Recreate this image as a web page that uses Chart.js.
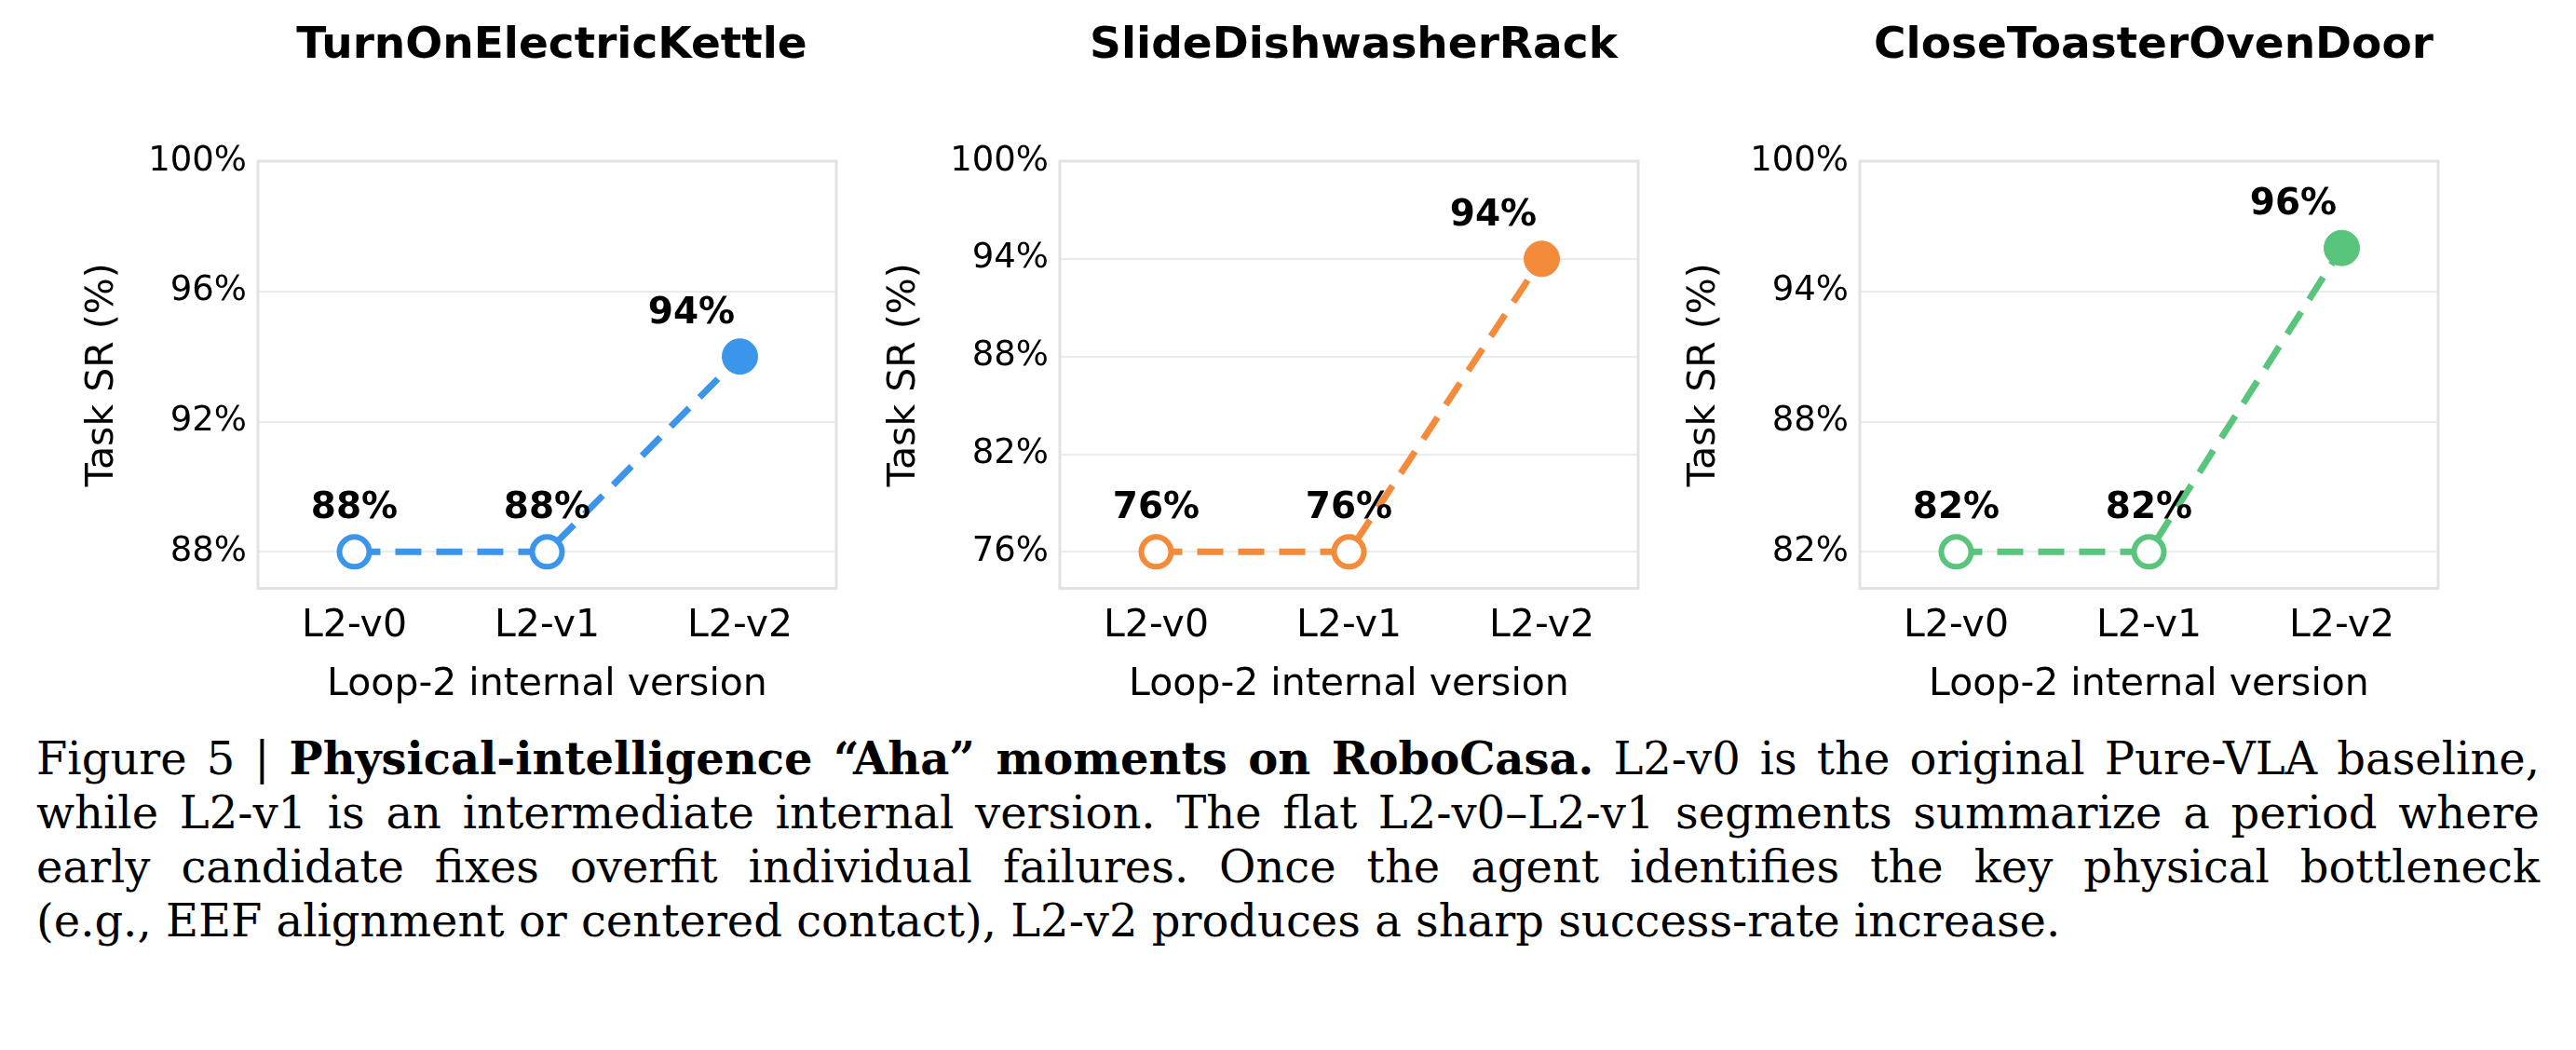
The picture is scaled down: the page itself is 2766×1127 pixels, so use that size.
<!DOCTYPE html>
<html><head><meta charset="utf-8">
<script src="https://cdn.jsdelivr.net/npm/chart.js@4/dist/chart.umd.min.js"></script>
<style>
body{margin:0;width:2766px;height:1127px;background:#fff;position:relative;overflow:hidden}
.cv{position:absolute;top:0;width:920px;height:760px}
.ttl{position:absolute;top:18px;font:bold 47px "DejaVu Sans";text-align:center;width:621px;color:#000}
#cap{position:absolute;left:39px;top:785px;width:2688px;font:48px "DejaVu Serif";line-height:58px;color:#000}
#cap div{text-align:justify;text-align-last:justify;white-space:nowrap}
#cap div.last{text-align-last:left}
</style></head><body>
<div class="cv" style="left:0"><canvas id="c0"></canvas></div>
<div class="cv" style="left:861px"><canvas id="c1"></canvas></div>
<div class="cv" style="left:1720px"><canvas id="c2"></canvas></div>
<div class="ttl" style="left:282px">TurnOnElectricKettle</div>
<div class="ttl" style="left:1143px">SlideDishwasherRack</div>
<div class="ttl" style="left:2002px">CloseToasterOvenDoor</div>
<div id="cap">
<div>Figure 5 | <b>Physical-intelligence “Aha” moments on RoboCasa.</b> L2-v0 is the original Pure-VLA baseline,</div>
<div>while L2-v1 is an intermediate internal version. The flat L2-v0–L2-v1 segments summarize a period where</div>
<div>early candidate fixes overfit individual failures. Once the agent identifies the key physical bottleneck</div>
<div class="last">(e.g., EEF alignment or centered contact), L2-v2 produces a sharp success-rate increase.</div>
</div>
<script>
const versions = ["L2-v0","L2-v1","L2-v2"];
const kettleSR = [88, 88, 94];
const dishwasherSR = [76, 76, 94];
const toasterSR = [82, 82, 96];
const kettleTicks = [88, 92, 96, 100];
const dishwasherTicks = [76, 82, 88, 94, 100];
const toasterTicks = [82, 88, 94, 100];
const colors = ["#3a95eb", "#f38b3a", "#59c47b"];

const frame = {id:'frame', beforeDatasetsDraw(c){const a=c.chartArea,x=c.ctx;x.save();x.strokeStyle='#e2e2e2';x.lineWidth=3;x.strokeRect(a.left,a.top,a.right-a.left,a.bottom-a.top);x.restore();}};
const labels = {id:'lbl', afterDatasetsDraw(c){const x=c.ctx;const m=c.getDatasetMeta(0);const d=c.data.datasets[0].data;x.save();x.font='bold 39px "DejaVu Sans"';x.fillStyle='#000';x.textAlign='center';x.textBaseline='middle';
 m.data.forEach((p,i)=>{const dx=i===d.length-1?-52:0;x.fillText(d[i]+'%',p.x+dx,p.y-46);});x.restore();}};

function make(id, data, ticks, color){
  const lo = ticks[0], hi = ticks[ticks.length-1], r = hi-lo;
  new Chart(document.getElementById(id), {
    type:'line',
    data:{labels:versions, datasets:[{data, borderColor:color, borderWidth:7, borderDash:[28,16],
      pointRadius:[16,16,19], pointBorderWidth:[6,6,1], pointBackgroundColor:['#fff','#fff',color], pointBorderColor:color, tension:0}]},
    options:{responsive:false, animation:false, devicePixelRatio:1,
      layout:{padding:{left:86,right:17,top:173,bottom:0}},
      plugins:{legend:{display:false}, tooltip:{enabled:false}},
      scales:{
        x:{offset:true, grid:{display:false}, border:{display:false},
           ticks:{color:'#000', font:{family:'DejaVu Sans', size:41}, padding:8},
           title:{display:true, text:'Loop-2 internal version', color:'#000', font:{family:'DejaVu Sans', size:41}, padding:{top:6,bottom:0}}},
        y:{min: lo - r*0.0936, max: hi, grid:{color:'#ebebeb', lineWidth:2, drawTicks:false}, border:{display:false},
           afterBuildTicks: s=>{ s.ticks = ticks.map(v=>({value:v})); },
           ticks:{color:'#000', font:{family:'DejaVu Sans', size:37}, padding:12, callback:v=>v+'%'},
           title:{display:true, text:'Task SR (%)', color:'#000', font:{family:'DejaVu Sans', size:41}, padding:{top:0,bottom:12}}}
      }},
    plugins:[frame, labels]
  });
}
for (const id of ["c0","c1","c2"]){ const c=document.getElementById(id); c.width=920; c.height=760; }
make("c0", kettleSR, kettleTicks, colors[0]);
make("c1", dishwasherSR, dishwasherTicks, colors[1]);
make("c2", toasterSR, toasterTicks, colors[2]);
</script>
</body></html>
